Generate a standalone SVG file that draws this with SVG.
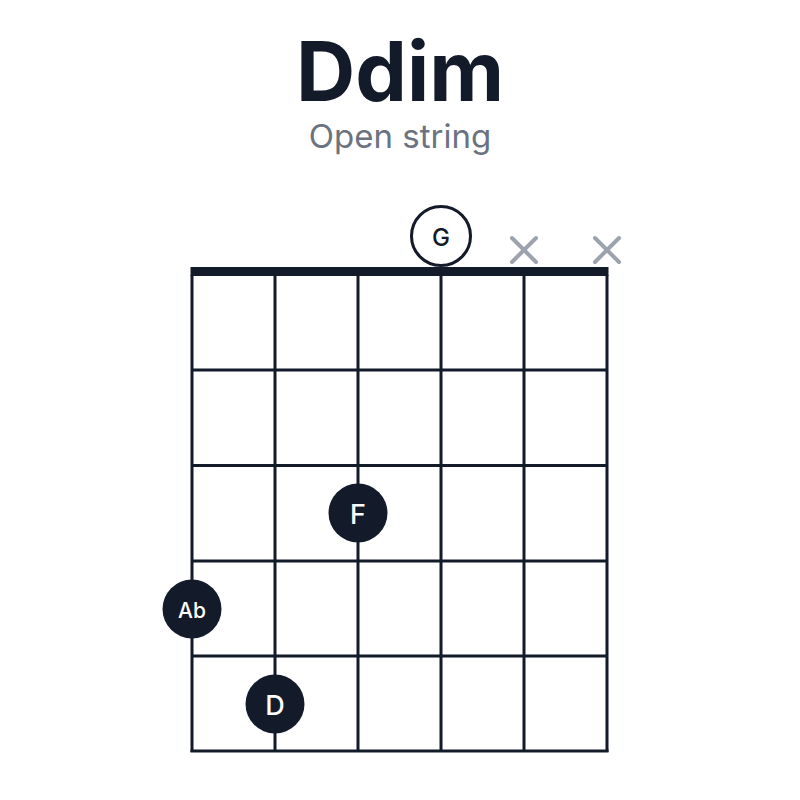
<svg xmlns="http://www.w3.org/2000/svg" width="800" height="800" viewBox="0 0 800 800">
<style>
.title{font-family:Inter,"Liberation Sans",sans-serif;font-weight:700;font-size:82px;fill:#131a2a}
.sub{font-family:Inter,"Liberation Sans",sans-serif;font-size:33px;fill:#6b7280}
.grid line{stroke:#131a2a;stroke-width:3}
.dot{fill:#131a2a}
.lbl{font-family:Inter,"Liberation Sans",sans-serif;font-weight:500;fill:#ffffff;text-anchor:middle;dominant-baseline:central}
.x line{stroke:#9ca3af;stroke-width:4;stroke-linecap:round}
</style>
<rect width="800" height="800" fill="#ffffff"/>
<text class="title" x="400" y="101" text-anchor="middle">Ddim</text>
<text class="sub" x="400" y="148" text-anchor="middle">Open string</text>
<g id="grid" class="grid">
<line x1="192" y1="275" x2="192" y2="752"/>
<line x1="275" y1="275" x2="275" y2="752"/>
<line x1="358" y1="275" x2="358" y2="752"/>
<line x1="441" y1="275" x2="441" y2="752"/>
<line x1="524" y1="275" x2="524" y2="752"/>
<line x1="607" y1="275" x2="607" y2="752"/>
<line x1="192" y1="370" x2="607" y2="370"/>
<line x1="192" y1="465.5" x2="607" y2="465.5"/>
<line x1="192" y1="561" x2="607" y2="561"/>
<line x1="192" y1="656" x2="607" y2="656"/>
<line x1="190.5" y1="751" x2="608.5" y2="751"/>
</g>
<rect id="nut" x="190.5" y="267" width="418" height="9" fill="#131a2a"/>
<g id="open-G">
<circle cx="441" cy="236" r="29.5" fill="#ffffff" stroke="#131a2a" stroke-width="3"/>
<text x="441" y="237" font-family="Inter,'Liberation Sans',sans-serif" font-size="24" font-weight="500" fill="#131a2a" text-anchor="middle" dominant-baseline="central">G</text>
</g>
<g id="mute-5" class="x"><line x1="512" y1="238" x2="536" y2="262"/><line x1="536" y1="238" x2="512" y2="262"/></g>
<g id="mute-6" class="x"><line x1="595" y1="238" x2="619" y2="262"/><line x1="619" y1="238" x2="595" y2="262"/></g>
<g id="dot-F"><circle class="dot" cx="358" cy="513" r="29.5"/><text class="lbl" x="358" y="514" font-size="27">F</text></g>
<g id="dot-Ab"><circle class="dot" cx="192" cy="609" r="29.5"/><text class="lbl" x="192" y="610" font-size="21">Ab</text></g>
<g id="dot-D"><circle class="dot" cx="275" cy="704" r="29.5"/><text class="lbl" x="275" y="705" font-size="27">D</text></g>
</svg>
